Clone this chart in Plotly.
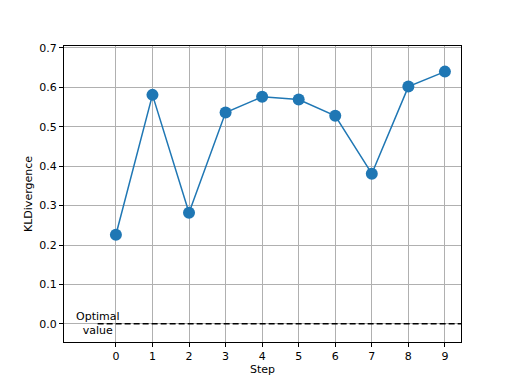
import plotly.graph_objects as go

steps = [0, 1, 2, 3, 4, 5, 6, 7, 8, 9]
kl_values = [0.226, 0.581, 0.282, 0.536, 0.576, 0.569, 0.528, 0.381, 0.602, 0.640]
optimal_value = 0.0
optimal_x = [-0.5, 9.5]
y_ticks = [0.0, 0.1, 0.2, 0.3, 0.4, 0.5, 0.6, 0.7]

fig = go.Figure()
fig.add_trace(go.Scatter(
    x=optimal_x, y=[optimal_value, optimal_value], mode="lines",
    line=dict(color="black", width=1.5, dash="6px,3px"), showlegend=False))
fig.add_trace(go.Scatter(
    x=steps, y=kl_values, mode="lines+markers",
    line=dict(color="#1f77b4", width=1.5),
    marker=dict(size=12, color="#1f77b4"), showlegend=False))

fig.add_annotation(x=-0.5, y=optimal_value, text="Optimal<br>value", showarrow=False,
                   xanchor="center", yanchor="middle",
                   font=dict(family="DejaVu Sans", size=11, color="black"))

axis_common = dict(showline=True, linecolor="black", linewidth=1, mirror=True,
                   ticks="outside", ticklen=4, tickcolor="black", automargin=False,
                   showgrid=True, gridcolor="#b0b0b0", gridwidth=1, zeroline=False,
                   tickfont=dict(family="DejaVu Sans", size=11, color="black"))

fig.update_xaxes(range=[-1.42, 9.44], tickvals=steps,
                 title=dict(text="Step", standoff=2, font=dict(family="DejaVu Sans", size=11, color="black")),
                 **axis_common)
fig.update_yaxes(range=[-0.046, 0.705], tickvals=y_ticks, tickformat=".1f",
                 title=dict(text="KLDivergence", standoff=4, font=dict(family="DejaVu Sans", size=11, color="black")),
                 **axis_common)

fig.update_layout(width=512, height=384, margin=dict(l=56, r=59, t=38, b=50),
                  plot_bgcolor="white", paper_bgcolor="white",
                  font=dict(family="DejaVu Sans", size=11, color="black"))

fig.write_html("out.html")
